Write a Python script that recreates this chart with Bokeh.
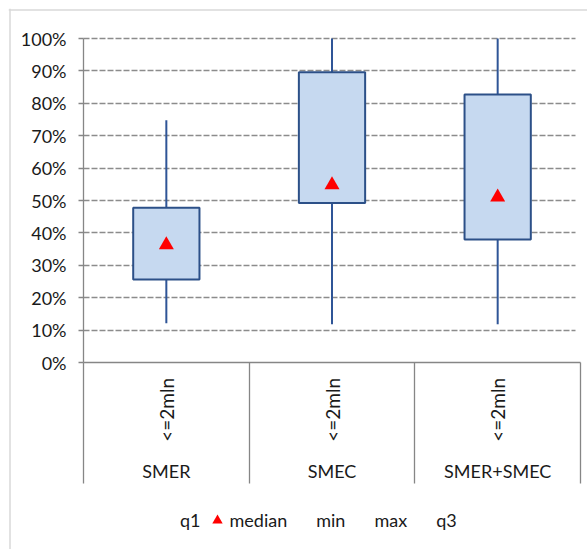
import math
from bokeh.plotting import figure
from bokeh.models import (Range1d, LinearAxis, FixedTicker, NumeralTickFormatter, Grid,
                          ColumnDataSource, Legend, LegendItem, Span)
from bokeh.core.properties import value
from bokeh.embed import file_html
from bokeh.resources import INLINE

# ---- data ----
categories = ["SMER", "SMEC", "SMER+SMEC"]
sub_labels = ["<=2mln", "<=2mln", "<=2mln"]
q1 = [0.256, 0.492, 0.380]
median = [0.363, 0.548, 0.510]
q3 = [0.478, 0.896, 0.827]
mins = [0.121, 0.118, 0.118]
maxs = [0.748, 1.0, 1.0]
y_ticks = [0.0, 0.1, 0.2, 0.3, 0.4, 0.5, 0.6, 0.7, 0.8, 0.9, 1.0]
legend_labels = ["q1", "median", "min", "max", "q3"]

FONT = "Lato"
TXT = "#1a1a1a"
GRAY = "#868686"

W, H = 587, 549
BL, BT = 8, 8                 # frame offsets inside canvas
frame_w, frame_h = W - BL, H - BT
x0_px = 75.0                  # x=0 offset from frame left
cat_px = 165.67               # px per category
y0_px = 354.0                 # y=0 offset from frame top
y_px = 324.0                  # px per 100%

x_start = -x0_px / cat_px
x_end = x_start + frame_w / cat_px
y_end = y0_px / y_px
y_start = y_end - frame_h / y_px

p = figure(width=W, height=H, output_backend="svg", toolbar_location=None,
           x_range=Range1d(x_start, x_end), y_range=Range1d(y_start, y_end),
           x_axis_location=None, y_axis_location=None,
           min_border_left=BL, min_border_top=BT, min_border_right=0, min_border_bottom=0)
p.outline_line_color = None
p.xgrid.visible = False
p.ygrid.visible = False
p.background_fill_color = "white"
p.border_fill_color = "white"

# chart-area border (left and top edges; the rest lies outside the view)
p.add_layout(Span(location=x_start + 1.5 / cat_px, dimension="height",
                  line_color="#d9d9d9", line_width=1.5))
p.add_layout(Span(location=y_end - 1.5 / y_px, dimension="width",
                  line_color="#d9d9d9", line_width=1.5))

n = len(categories)
xc = [i + 0.5 for i in range(n)]

# grid lines (dashed)
grid = Grid(dimension=1, ticker=FixedTicker(ticks=y_ticks[1:]),
            cross_bounds=(0, n - 0.03),
            grid_line_color="#8c8c8c", grid_line_width=1.6, grid_line_dash="6 2")
p.add_layout(grid)

# y axis at x=0
yaxis = LinearAxis(fixed_location=0, ticker=FixedTicker(ticks=y_ticks),
                   formatter=NumeralTickFormatter(format="0%"), bounds=(0, 1),
                   axis_line_color=GRAY, axis_line_width=1.3,
                   major_tick_line_color=GRAY, major_tick_line_width=1.3,
                   major_tick_out=5, major_tick_in=0,
                   minor_tick_line_color=None,
                   major_label_standoff=12,
                   major_label_text_font=FONT, major_label_text_font_size="18px",
                   major_label_text_color=TXT)
p.add_layout(yaxis, "left")

# x axis at y=0 with long ticks as category separators
xaxis = LinearAxis(fixed_location=0, ticker=FixedTicker(ticks=list(range(n + 1))),
                   bounds=(0, n),
                   axis_line_color=GRAY, axis_line_width=1.3,
                   major_tick_line_color=GRAY, major_tick_line_width=1.3,
                   major_tick_out=121, major_tick_in=0,
                   minor_tick_line_color=None,
                   major_label_text_color=None, major_label_text_font_size="1px")
p.add_layout(xaxis, "below")

src = ColumnDataSource(dict(x=xc, q1=q1, median=median, q3=q3, mn=mins, mx=maxs,
                            cat=categories, sub=sub_labels))

WH = "#2f5597"
# whiskers
p.segment(x0="x", y0="mn", x1="x", y1="q1", source=src, line_color=WH, line_width=2)
p.segment(x0="x", y0="q3", x1="x", y1="mx", source=src, line_color=WH, line_width=2)
# boxes
p.vbar(x="x", bottom="q1", top="q3", width=0.4, source=src,
       fill_color="#c6d9f0", line_color="#2c5088", line_width=2)
# median markers
r_med = p.scatter(x="x", y="median", source=src, marker="triangle", size=15,
                  fill_color="#ff0000", line_color="#ff0000", line_width=0)

# invisible series (as in the original chart's legend)
r_q1 = p.scatter(x="x", y="q1", source=src, size=0, fill_alpha=0, line_alpha=0)
r_mn = p.scatter(x="x", y="mn", source=src, size=0, fill_alpha=0, line_alpha=0)
r_mx = p.scatter(x="x", y="mx", source=src, size=0, fill_alpha=0, line_alpha=0)
r_q3 = p.scatter(x="x", y="q3", source=src, size=0, fill_alpha=0, line_alpha=0)

# category labels
p.text(x="x", y=-0.146, text="sub", source=src, angle=math.pi / 2,
       text_align="center", text_baseline="middle",
       text_font=value(FONT), text_font_size="19px", text_color=TXT)
p.text(x="x", y=-0.335, text="cat", source=src,
       text_align="center", text_baseline="middle",
       text_font=value(FONT), text_font_size="18px", text_color=TXT)

legend = Legend(items=[
    LegendItem(label=legend_labels[0], renderers=[r_q1]),
    LegendItem(label=legend_labels[1], renderers=[r_med]),
    LegendItem(label=legend_labels[2], renderers=[r_mn]),
    LegendItem(label=legend_labels[3], renderers=[r_mx]),
    LegendItem(label=legend_labels[4], renderers=[r_q3]),
], orientation="horizontal", location=(146, 16),
    glyph_width=26, glyph_height=26, label_standoff=0, spacing=3,
    padding=0, margin=0, border_line_color=None, background_fill_alpha=0,
    label_text_font=FONT, label_text_font_size="18px", label_text_color=TXT)
p.add_layout(legend)

open("out.html", "w").write(file_html(p, INLINE))
